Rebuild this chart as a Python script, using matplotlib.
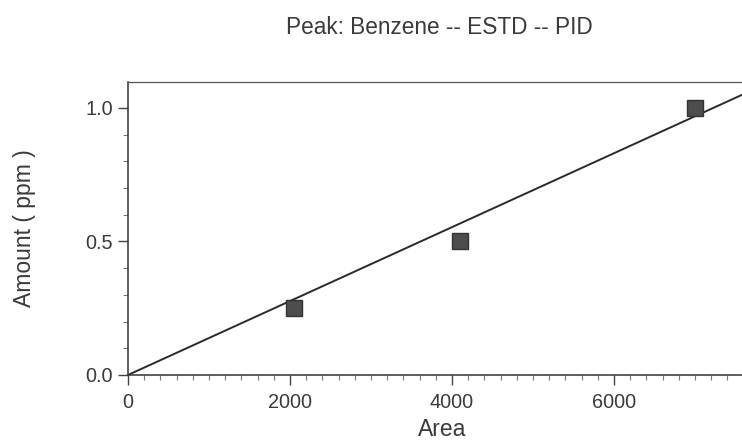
import numpy as np
import matplotlib.pyplot as plt
from matplotlib.ticker import MultipleLocator

# Puntos de calibración (área, cantidad)
areas = [2050, 4100, 7000]
cantidades = [0.25, 0.5, 1.0]
pendiente = 1.384e-4  # pendiente de la recta
x_max = 7580

plt.rcParams['font.family'] = ['Liberation Sans', 'DejaVu Sans']
texto = '#3a3a3a'

fig = plt.figure(figsize=(7.42, 4.41), dpi=100)
ax = fig.add_axes([0.1725, 0.1497, 0.8275, 0.6643])

xs = np.array([0, x_max])
ax.plot(xs, pendiente * xs, color='#2a2a2a', linewidth=1.4, zorder=2)
ax.plot(areas, cantidades, linestyle='none', marker='s', markersize=12,
        markerfacecolor='#4d4d4d', markeredgecolor='#333333', zorder=3)

ax.set_xlim(0, x_max)
ax.set_ylim(0, 1.097)
ax.xaxis.set_major_locator(MultipleLocator(2000))
ax.xaxis.set_minor_locator(MultipleLocator(200))
ax.yaxis.set_major_locator(MultipleLocator(0.5))
ax.yaxis.set_minor_locator(MultipleLocator(0.1))
ax.yaxis.set_major_formatter(plt.FormatStrFormatter('%.1f'))

ax.spines['right'].set_visible(False)
for s in ['left', 'bottom']:
    ax.spines[s].set_color('#333333')
    ax.spines[s].set_linewidth(1.1)
ax.spines['top'].set_color('#555555')
ax.spines['top'].set_linewidth(0.9)

ax.tick_params(which='major', direction='out', length=7, width=1, colors='#444444',
               labelsize=14.3, labelcolor=texto)
ax.tick_params(axis='x', which='major', pad=6)
ax.tick_params(axis='y', which='major', pad=4)
ax.tick_params(which='minor', direction='out', length=3.5, width=0.8, colors='#777777')

# Títulos y etiquetas de ejes
fig.text(442 / 742, 1 - 430 / 441, 'Area', ha='center', va='center',
         fontsize=16.5, color=texto)
fig.text(25 / 742, 1 - 228 / 441, 'Amount ( ppm )', ha='center', va='center',
         rotation=90, fontsize=16.5, color=texto)
fig.text(439 / 742, 1 - 28 / 441, 'Peak: Benzene -- ESTD -- PID', ha='center', va='center',
         fontsize=16.3, color=texto)

fig.savefig('out.png', dpi=100)
